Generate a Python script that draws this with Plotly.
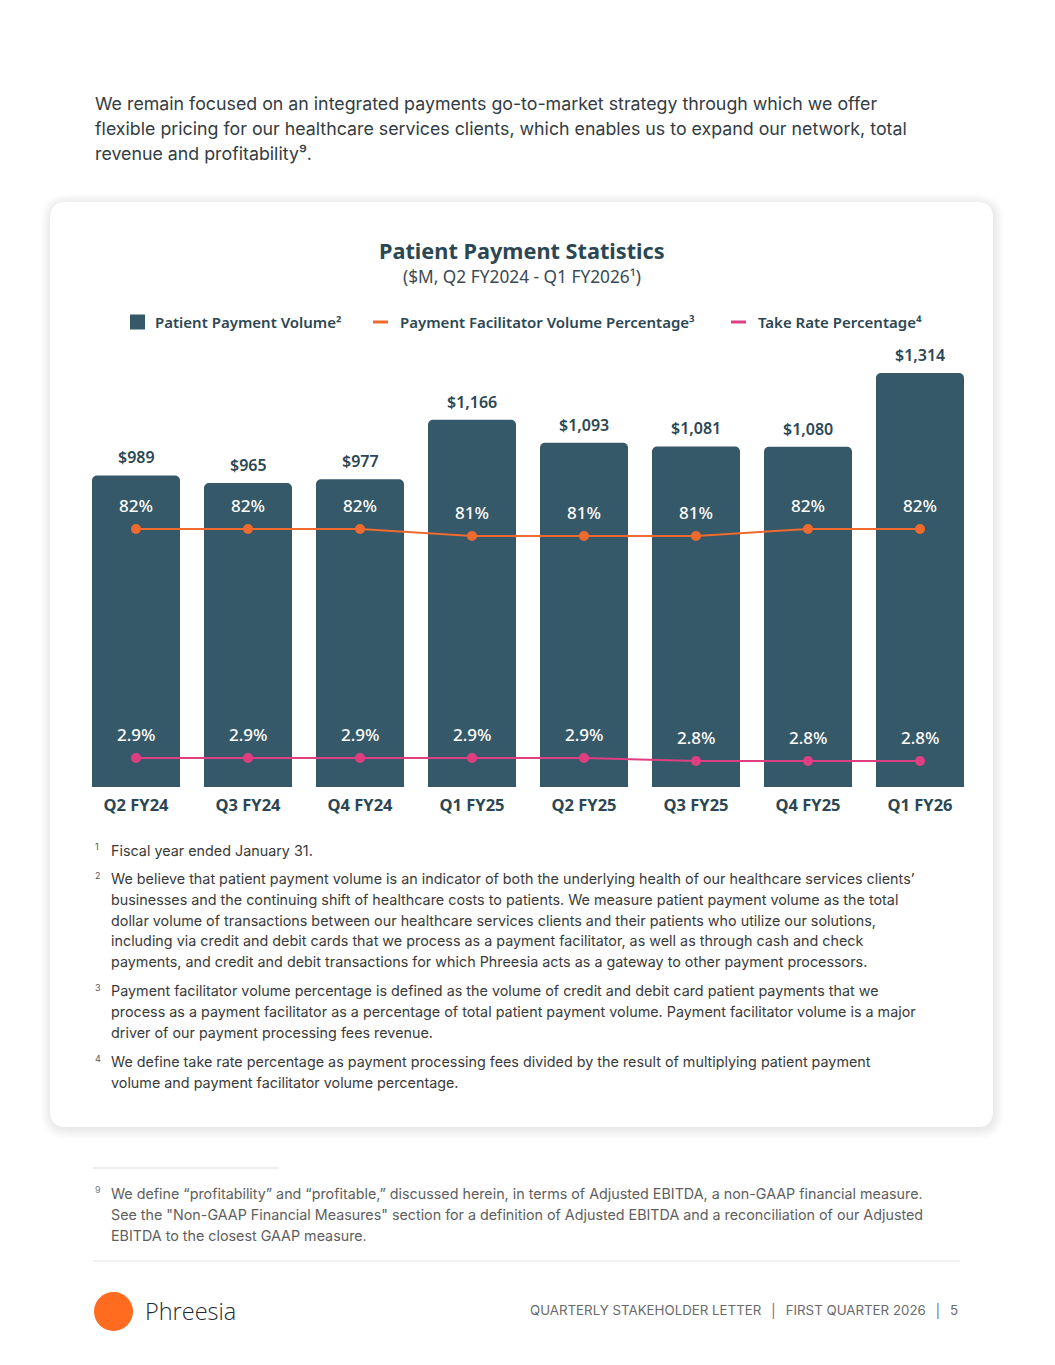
import plotly.graph_objects as go

W, H = 1055, 1365

quarters = ["Q2 FY24", "Q3 FY24", "Q4 FY24", "Q1 FY25", "Q2 FY25", "Q3 FY25", "Q4 FY25", "Q1 FY26"]
volume = [989, 965, 977, 1166, 1093, 1081, 1080, 1314]
facilitator_pct = [82, 82, 82, 81, 81, 81, 82, 82]
take_rate = [2.9, 2.9, 2.9, 2.9, 2.9, 2.8, 2.8, 2.8]

BAR = "#36596a"
DARK = "#2c4754"
ORANGE = "#ef6a2c"
PINK = "#df3f80"
CHART_FONT = "Noto Sans"
BODY_FONT = "Inter"


def px(x):
    return x / W


def py(y):
    return 1 - y / H


fig = go.Figure()

fig.add_trace(go.Bar(
    x=quarters, y=volume, marker=dict(color=BAR, line=dict(width=0)),
    showlegend=False, hoverinfo="skip", yaxis="y",
))
fig.add_trace(go.Scatter(
    x=quarters, y=facilitator_pct, mode="lines+markers", yaxis="y2",
    line=dict(color=ORANGE, width=2), marker=dict(size=10, color=ORANGE),
    showlegend=False, hoverinfo="skip",
))
fig.add_trace(go.Scatter(
    x=quarters, y=take_rate, mode="lines+markers", yaxis="y3",
    line=dict(color=PINK, width=2), marker=dict(size=10, color=PINK),
    showlegend=False, hoverinfo="skip",
))

ann = []
# value labels above bars
for q, v in zip(quarters, volume):
    ann.append(dict(x=q, y=v, xref="x", yref="y", text=f"${v:,}", showarrow=False,
                    yanchor="middle", yshift=18,
                    font=dict(family=CHART_FONT, size=16, color=DARK, weight=600)))
for q, v in zip(quarters, facilitator_pct):
    ann.append(dict(x=q, y=v, xref="x", yref="y2", text=f"{v}%", showarrow=False,
                    yanchor="middle", yshift=23,
                    font=dict(family=CHART_FONT, size=17, color="white", weight=500)))
for q, v in zip(quarters, take_rate):
    ann.append(dict(x=q, y=v, xref="x", yref="y3", text=f"{v:.1f}%", showarrow=False,
                    yanchor="middle", yshift=23,
                    font=dict(family=CHART_FONT, size=17, color="white", weight=500)))


def text(x, y, s, size, color, family=BODY_FONT, anchor="left", weight=400):
    ann.append(dict(x=px(x), y=py(y), xref="paper", yref="paper", text=s, showarrow=False,
                    xanchor=anchor, yanchor="middle", align=anchor if anchor != "center" else "center",
                    font=dict(family=family, size=size, color=color, weight=weight)))


intro = [
    "We remain focused on an integrated payments go-to-market strategy through which we offer",
    "flexible pricing for our healthcare services clients, which enables us to expand our network, total",
    "revenue and profitability⁹.",
]
for i, s in enumerate(intro):
    text(93, 104 + i * 24.5, s, 17.8, "#333c42")

# titles
text(522, 250, "Patient Payment Statistics", 21.7, DARK, CHART_FONT, "center", 700)
text(522, 277, "($M, Q2 FY2024 - Q1 FY2026¹)", 17.3, "#3b4a52", CHART_FONT, "center", 400)

# legend
text(153, 322, "Patient Payment Volume²", 15, DARK, CHART_FONT, "left", 600)
text(398, 322, "Payment Facilitator Volume Percentage³", 15, DARK, CHART_FONT, "left", 600)
text(756, 322, "Take Rate Percentage⁴", 15, DARK, CHART_FONT, "left", 600)

notes = [
    ("1", ["Fiscal year ended January 31."]),
    ("2", ["We believe that patient payment volume is an indicator of both the underlying health of our healthcare services clients’",
           "businesses and the continuing shift of healthcare costs to patients. We measure patient payment volume as the total",
           "dollar volume of transactions between our healthcare services clients and their patients who utilize our solutions,",
           "including via credit and debit cards that we process as a payment facilitator, as well as through cash and check",
           "payments, and credit and debit transactions for which Phreesia acts as a gateway to other payment processors."]),
    ("3", ["Payment facilitator volume percentage is defined as the volume of credit and debit card patient payments that we",
           "process as a payment facilitator as a percentage of total patient payment volume. Payment facilitator volume is a major",
           "driver of our payment processing fees revenue."]),
    ("4", ["We define take rate percentage as payment processing fees divided by the result of multiplying patient payment",
           "volume and payment facilitator volume percentage."]),
]
y = 850
for num, lines in notes:
    text(93, y - 4, num, 9, "#555555")
    for s in lines:
        text(109, y, s, 14.35, "#3a3a3a")
        y += 20.8
    y += 8.3

nine = ["We define “profitability” and “profitable,” discussed herein, in terms of Adjusted EBITDA, a non-GAAP financial measure.",
        "See the \"Non-GAAP Financial Measures\" section for a definition of Adjusted EBITDA and a reconciliation of our Adjusted",
        "EBITDA to the closest GAAP measure."]
text(93, 1189, "9", 9, "#777777")
for i, s in enumerate(nine):
    text(109, 1193 + i * 21, s, 14.3, "#5e5e5e")

text(143, 1311, "Phreesia", 23.5, "#1f2a33", "Open Sans", "left", 300)
text(960, 1311, "QUARTERLY STAKEHOLDER LETTER  │  FIRST QUARTER 2026  │  5", 13.3, "#6a6a6a", BODY_FONT, "right")


def rrect(x0, y0, x1, y1, r):
    pts = [
        f"M {px(x0 + r)} {py(y0)}",
        f"L {px(x1 - r)} {py(y0)}",
        f"Q {px(x1)} {py(y0)} {px(x1)} {py(y0 + r)}",
        f"L {px(x1)} {py(y1 - r)}",
        f"Q {px(x1)} {py(y1)} {px(x1 - r)} {py(y1)}",
        f"L {px(x0 + r)} {py(y1)}",
        f"Q {px(x0)} {py(y1)} {px(x0)} {py(y1 - r)}",
        f"L {px(x0)} {py(y0 + r)}",
        f"Q {px(x0)} {py(y0)} {px(x0 + r)} {py(y0)}",
        "Z",
    ]
    return " ".join(pts)


shapes = []
for k in range(10, 0, -1):
    shapes.append(dict(type="path", path=rrect(50 - k + 1, 202 - k + 2, 993 + k + 1, 1127 + k + 2, 16 + k),
                       xref="paper", yref="paper", fillcolor="rgba(0,0,0,0.009)", line=dict(width=0), layer="below"))
shapes.append(dict(type="path", path=rrect(50, 202, 993, 1127, 16), xref="paper", yref="paper",
                   fillcolor="white", line=dict(width=0), layer="below"))

# legend symbols
shapes.append(dict(type="rect", x0=px(130), x1=px(145), y0=py(314.5), y1=py(329.5), xref="paper", yref="paper",
                   fillcolor=BAR, line=dict(width=0)))
shapes.append(dict(type="line", x0=px(373), x1=px(388), y0=py(322), y1=py(322), xref="paper", yref="paper",
                   line=dict(color=ORANGE, width=3)))
shapes.append(dict(type="line", x0=px(731), x1=px(746), y0=py(322), y1=py(322), xref="paper", yref="paper",
                   line=dict(color=PINK, width=3)))

# rules
shapes.append(dict(type="line", x0=px(93), x1=px(279), y0=py(1168), y1=py(1168), xref="paper", yref="paper",
                   line=dict(color="#dddddd", width=1)))
shapes.append(dict(type="line", x0=px(93), x1=px(960), y0=py(1261), y1=py(1261), xref="paper", yref="paper",
                   line=dict(color="#e2e2e2", width=1)))
# logo dot
shapes.append(dict(type="circle", x0=px(94), x1=px(133), y0=py(1292), y1=py(1331), xref="paper", yref="paper",
                   fillcolor="#ff6b1f", line=dict(width=0)))

dom_y = [py(787), py(360)]
fig.update_layout(
    width=W, height=H, margin=dict(l=0, r=0, t=0, b=0),
    paper_bgcolor="white", plot_bgcolor="rgba(0,0,0,0)",
    bargap=0.214, barcornerradius=5,
    xaxis=dict(domain=[px(80), px(976)], showgrid=False, zeroline=False, showline=False, ticks="",
               ticklabelstandoff=6,
               tickfont=dict(family=CHART_FONT, size=16.5, color=DARK, weight=700), fixedrange=True),
    yaxis=dict(domain=dom_y, range=[0, 427 / 0.315], visible=False, fixedrange=True),
    yaxis2=dict(domain=dom_y, range=[45.14, 45.14 + 427 / 7], overlaying="y", visible=False),
    yaxis3=dict(domain=dom_y, range=[1.933, 1.933 + 427 / 30], overlaying="y", visible=False),
    annotations=ann, shapes=shapes, showlegend=False,
)

fig.write_html("out.html", config={"displayModeBar": False},
               post_script="document.body.style.margin='0px';")
